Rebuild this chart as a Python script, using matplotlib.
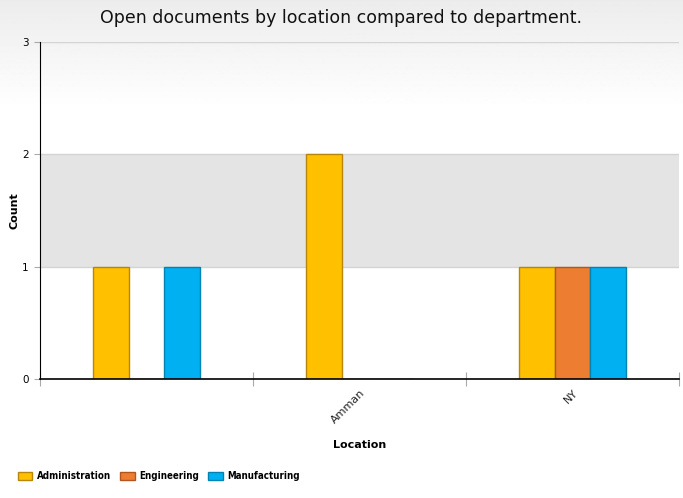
import matplotlib.pyplot as plt
import numpy as np

# data
locations = ["", "Amman", "NY"]
departments = ["Administration", "Engineering", "Manufacturing"]
administration = [1, 2, 1]
engineering = [0, 0, 1]
manufacturing = [1, 0, 1]

series = [administration, engineering, manufacturing]
fills = ["#FFC000", "#ED7D31", "#00B0F0"]
edges = ["#B8860B", "#B0561E", "#0083B3"]

W, H = 683, 498
fig = plt.figure(figsize=(W / 100, H / 100), dpi=100)

# background gradient at the top of the figure
bg = fig.add_axes([0, 0, 1, 1], zorder=-10)
grad = np.ones((H, 1))
top = 110
grad[:top, 0] = np.linspace(0.925, 1.0, top)
grad[0, 0] = 0.87
bg.imshow(grad, aspect="auto", cmap="gray", vmin=0, vmax=1,
          extent=[0, 1, 0, 1], interpolation="bilinear")
bg.axis("off")

ax = fig.add_axes([40 / W, (H - 379) / H, (679 - 40) / W, (379 - 42) / H])
ax.set_facecolor("none")

x = np.arange(len(locations))
w = 1 / 6
for i, (vals, fc, ec, name) in enumerate(zip(series, fills, edges, departments)):
    ax.bar(x + (i - 1) * w, vals, width=w, color=fc, edgecolor=ec,
           linewidth=1, label=name, zorder=2)

ax.axhspan(1, 2, color="#e4e4e4", zorder=0, lw=0)
for yv in [1, 2, 3]:
    ax.axhline(yv, color="#d4d4d4", lw=1, zorder=0.5)

ax.set_xlim(-0.5, len(locations) - 0.5)
ax.set_ylim(0, 3)
ax.set_yticks([0, 1, 2, 3])

ax.set_xticks(np.arange(-0.5, len(locations)), labels=[""] * (len(locations) + 1))
ax.set_xticks(x, minor=True)
ax.set_xticklabels(locations, minor=True, rotation=45, ha="right",
                   rotation_mode="anchor", fontsize=8, color="#222222")
ax.tick_params(axis="x", which="minor", length=0, pad=6)
ax.tick_params(axis="x", which="major", direction="inout", length=10,
               color="#aaaaaa")
ax.tick_params(axis="y", direction="out", length=4, color="#aaaaaa",
               labelsize=7.5, pad=4)

for s in ["top", "right"]:
    ax.spines[s].set_visible(False)
ax.spines["left"].set_color("black")
ax.spines["bottom"].set_color("black")
ax.spines["bottom"].set_linewidth(1.2)

ax.set_xlabel("Location", fontsize=8, fontweight="bold", va="center")
ax.xaxis.set_label_coords(0.5, -(445 - 379) / (379 - 42))
ax.set_ylabel("Count", fontsize=8, fontweight="bold", va="center")
ax.yaxis.set_label_coords(-(40 - 14) / (679 - 40), 0.5)

fig.text(0.5, 1 - 18 / H, "Open documents by location compared to department.",
         ha="center", va="center", fontsize=12.5, color="#111111")

fig.legend(loc="lower left", bbox_to_anchor=(9 / W, 8 / H), ncol=3,
           frameon=False, handlelength=1.5, handleheight=0.8,
           handletextpad=0.5, columnspacing=0.9,
           prop={"size": 7, "weight": "bold", "stretch": "condensed"})

fig.savefig("out.png", dpi=100)
